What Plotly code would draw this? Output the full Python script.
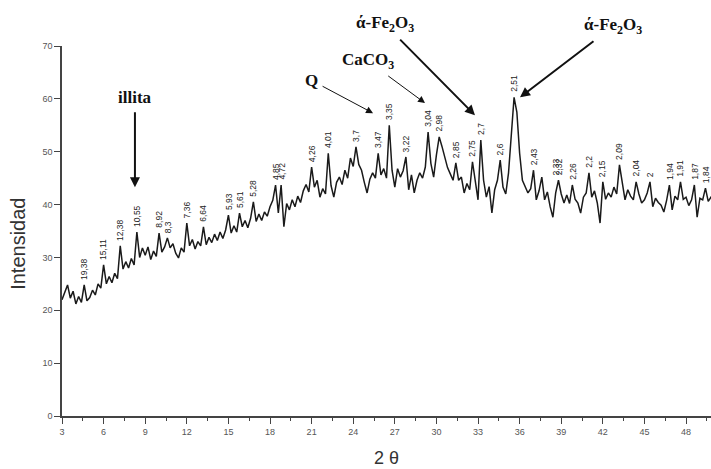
import plotly.graph_objects as go

# ---- data ----
two_theta_start = 3.0
two_theta_step = 0.2
intensity = [
    22.0, 23.5, 24.8, 22.3, 23.6,   # 3
    21.2, 22.6, 21.5, 24.8, 21.8,   # 4
    22.4, 23.8, 22.9, 25.0, 24.2,   # 5
    28.6, 25.0, 26.4, 25.2, 27.0,   # 6
    26.0, 32.2, 27.8, 29.2, 28.0,   # 7
    29.8, 28.6, 34.8, 30.0, 31.8,   # 8
    30.4, 32.0, 29.6, 31.2, 30.2,   # 9
    34.6, 31.0, 32.0, 33.7, 31.8,   # 10
    32.6, 30.8, 29.9, 31.8, 31.0,   # 11
    36.5, 32.2, 33.4, 31.6, 33.0,   # 12
    32.2, 35.8, 32.4, 33.8, 32.8,   # 13
    34.4, 33.2, 34.8, 33.6, 35.2,   # 14
    38.0, 34.6, 36.0, 34.8, 38.4,   # 15
    35.8, 37.0, 35.6, 37.4, 40.5,   # 16
    36.8, 38.2, 37.0, 38.6, 37.8,   # 17
    39.6, 40.8, 43.7, 38.4, 43.7,   # 18
    35.8, 40.2, 39.0, 40.9, 39.6,   # 19
    41.6, 40.4, 42.6, 43.8, 42.4,   # 20
    47.1, 43.3, 44.6, 41.4, 43.0,   # 21
    42.0, 49.7, 43.6, 41.4, 44.2,   # 22
    45.2, 43.8, 46.5, 45.0, 48.8,   # 23
    47.2, 50.9, 47.6, 46.5, 44.2,   # 24
    42.2, 44.8, 46.0, 45.0, 49.7,   # 25
    45.6, 46.8, 45.0, 55.0, 46.5,   # 26
    43.3, 46.8, 45.2, 46.4, 49.0,   # 27
    42.8, 45.6, 42.2, 44.6, 46.0,   # 28
    45.0, 47.1, 53.7, 47.8, 45.2,   # 29
    49.4, 52.8, 51.0, 49.0, 47.0,   # 30
    45.8, 44.6, 47.9, 44.6, 45.2,   # 31
    42.2, 44.0, 42.8, 48.1, 44.0,   # 32
    40.9, 52.2, 44.6, 41.4, 43.4,   # 33
    38.4, 42.8, 44.6, 48.4, 43.3,   # 34
    42.0, 46.0, 53.5, 60.3, 57.5,   # 35
    49.7, 44.6, 43.3, 42.2, 43.0,   # 36
    46.5, 40.9, 42.6, 45.2, 40.9,   # 37
    42.4, 39.6, 37.6, 42.2, 44.6,   # 38
    42.0, 40.3, 41.8, 40.2, 43.7,   # 39
    41.0, 40.3, 38.4, 41.4, 42.2,   # 40
    46.0, 41.4, 42.6, 40.3, 36.5,   # 41
    44.3, 41.0, 42.2, 41.4, 43.3,   # 42
    42.0, 47.5, 44.0, 40.9, 42.8,   # 43
    41.6, 40.9, 44.3, 42.0, 40.3,   # 44
    40.9, 42.2, 44.3, 39.6, 41.2,   # 45
    40.4, 39.9, 38.6, 40.8, 43.7,   # 46
    39.0, 41.6, 40.9, 44.3, 41.0,   # 47
    41.4, 39.8, 40.9, 43.7, 37.6,   # 48
    41.2, 40.9, 43.1, 40.6, 41.4,   # 49
    41.0,                           # 50
]
two_theta = [round(two_theta_start + i * two_theta_step, 1) for i in range(len(intensity))]

peak_2theta = [4.6, 6.0, 7.2, 8.4, 10.0, 10.6, 12.0, 13.2, 15.0, 15.8, 16.8,
               18.4, 18.8, 21.0, 22.2, 24.2, 25.8, 26.6, 27.8, 29.4, 30.2,
               31.4, 32.6, 33.2, 34.6, 35.6, 37.0, 38.6, 38.8, 39.8, 41.0,
               42.0, 43.2, 44.4, 45.4, 46.8, 47.6, 48.6, 49.4]
peak_d = ["19,38", "15,11", "12,38", "10,55", "8,92", "8,3", "7,36", "6,64",
          "5,93", "5,61", "5,28", "4,85", "4,72", "4,26", "4,01", "3,7",
          "3,47", "3,35", "3,22", "3,04", "2,98", "2,85", "2,75", "2,7",
          "2,6", "2,51", "2,43", "2,33", "2,32", "2,26", "2,2", "2,15",
          "2,09", "2,04", "2", "1,94", "1,91", "1,87", "1,84"]
peak_height = [24.8, 28.6, 32.2, 34.8, 34.6, 33.7, 36.5, 35.8, 38.0, 38.4,
               40.5, 43.7, 43.7, 47.1, 49.7, 50.9, 49.7, 55.0, 49.0, 53.7,
               52.8, 47.9, 48.1, 52.2, 48.4, 60.3, 46.5, 44.6, 44.6, 43.7,
               46.0, 44.3, 47.5, 44.3, 44.3, 43.7, 44.3, 43.7, 43.1]

x_ticks = list(range(3, 49, 3))
y_ticks = list(range(0, 71, 10))

# phase annotations: (text, head_x, head_y, text_dx_px, text_dy_px, arrow width)
phase_notes = [
    ("illita", 8.26, 43.3, 0, -90, 2.0),
    ("Q", 25.43, 57.3, -62, -33, 1.0),
    ("CaCO<sub>3</sub>", 29.18, 59.2, -57, -42, 1.0),
    ("ά-Fe<sub>2</sub>O<sub>3</sub>", 32.78, 56.9, -90, -91, 2.0),
    ("ά-Fe<sub>2</sub>O<sub>3</sub>", 36.03, 60.3, 93, -71, 2.0),
]

fig = go.Figure()
fig.add_trace(go.Scatter(
    x=two_theta, y=intensity, mode="lines",
    line=dict(color="#1a1a1a", width=1.5),
    showlegend=False, hoverinfo="skip",
))

annotations = []
for x, lab, h in zip(peak_2theta, peak_d, peak_height):
    annotations.append(dict(
        x=x, y=h, xref="x", yref="y", text=lab, showarrow=False,
        textangle=-90, xanchor="center", yanchor="bottom", yshift=3,
        font=dict(family="Arial, Liberation Sans, sans-serif", size=8.5, color="#222"),
    ))

for txt, hx, hy, dx, dy, w in phase_notes:
    annotations.append(dict(
        x=hx, y=hy, xref="x", yref="y", text="<b>" + txt + "</b>",
        showarrow=True, ax=dx, ay=dy,
        arrowhead=2, arrowsize=1.0 if w > 1.5 else 1.4,
        arrowwidth=w, arrowcolor="#111", standoff=0, startstandoff=4,
        font=dict(family="Liberation Serif, Times New Roman, serif", size=17, color="#111"),
    ))

# axis titles
annotations.append(dict(
    x=-0.068, y=0.465, xref="paper", yref="paper", text="Intensidad",
    showarrow=False, textangle=-90, xanchor="center", yanchor="middle",
    font=dict(family="Arial, Liberation Sans, sans-serif", size=20, color="#333"),
))
annotations.append(dict(
    x=0.50, y=-0.113, xref="paper", yref="paper", text="2 θ",
    showarrow=False, xanchor="center", yanchor="middle",
    font=dict(family="Arial, Liberation Sans, sans-serif", size=18, color="#333"),
))

fig.update_layout(
    width=711, height=469,
    margin=dict(l=62, r=0, t=46, b=53),
    paper_bgcolor="white", plot_bgcolor="white",
    annotations=annotations,
    font=dict(family="Arial, Liberation Sans, sans-serif"),
)
fig.update_xaxes(
    range=[3, 49.8], tickmode="array", tickvals=x_ticks,
    ticks="outside", ticklen=6, tickwidth=1.3, tickcolor="#444",
    showline=True, linecolor="#444", linewidth=1.5, showgrid=False, zeroline=False,
    tickfont=dict(size=9, color="#555"),
    minor=dict(tickmode="linear", tick0=1.5, dtick=1.5, ticks="outside", ticklen=3,
               tickcolor="#444", tickwidth=1.2, showgrid=False),
)
fig.update_yaxes(
    range=[0, 70], tickmode="array", tickvals=y_ticks,
    ticks="outside", ticklen=6, tickwidth=1.3, tickcolor="#444",
    showline=True, linecolor="#444", linewidth=1.5, showgrid=False, zeroline=False,
    tickfont=dict(size=9, color="#555"),
)

fig.write_html("out.html")
